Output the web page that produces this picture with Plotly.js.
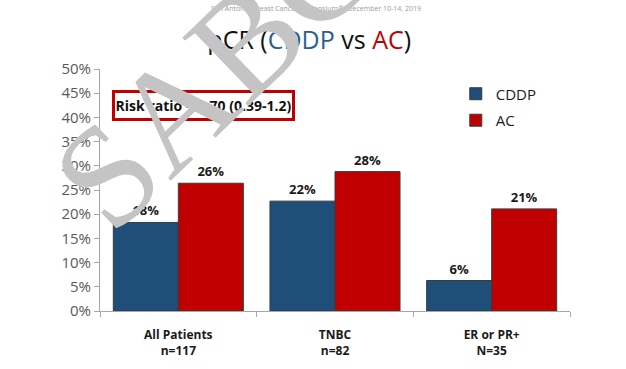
<!DOCTYPE html>
<html>
<head>
<meta charset="utf-8">
<script src="https://cdn.plot.ly/plotly-3.0.1.min.js"></script>
<style>html,body{margin:0;padding:0;background:#fff;}#chart{width:626px;height:369px;}</style>
</head>
<body>
<div id="chart"></div>
<script>
var categories = ['All Patients<br>n=117', 'TNBC<br>n=82', 'ER or PR+<br>N=35'];
var cddpValues = [18.3, 22.7, 6.3];
var acValues = [26.4, 28.8, 21.1];
var cddpLabels = ['18%', '22%', '6%'];
var acLabels = ['26%', '28%', '21%'];
var yTickVals = [0, 5, 10, 15, 20, 25, 30, 35, 40, 45, 50];
var yTickText = ['0%', '5%', '10%', '15%', '20%', '25%', '30%', '35%', '40%', '45%', '50%'];

var FONT = 'Open Sans, Lato, sans-serif';
var BLUE = '#1f4e79';
var RED = '#c00000';

var traces = [
  {
    type: 'bar', name: 'CDDP', x: categories, y: cddpValues, legendgroup: 'g1',
    text: cddpLabels, textposition: 'outside', cliponaxis: false,
    textfont: {family: FONT, size: 13, color: '#1a1a1a', weight: 'bold'},
    marker: {color: BLUE, line: {color: '#3a3a3a', width: 1}},
    hoverinfo: 'none'
  },
  {
    type: 'bar', name: 'AC', x: categories, y: acValues, legendgroup: 'g2',
    text: acLabels, textposition: 'outside', cliponaxis: false,
    textfont: {family: FONT, size: 13, color: '#1a1a1a', weight: 'bold'},
    marker: {color: RED, line: {color: '#3a3a3a', width: 1}},
    hoverinfo: 'none'
  }
];

var layout = {
  width: 626, height: 369,
  margin: {l: 100, r: 56, t: 69, b: 58},
  paper_bgcolor: '#ffffff', plot_bgcolor: '#ffffff',
  barmode: 'group', bargap: 0.17, bargroupgap: 0,
  font: {family: FONT},
  title: {
    text: 'pCR (<span style="color:#2e5f8c">CDDP</span> vs <span style="color:#c00000">AC</span>)',
    font: {family: FONT, size: 25, color: '#111111'},
    x: 0.494, xanchor: 'center', y: 0.892, yanchor: 'middle', xref: 'container', yref: 'container'
  },
  xaxis: {
    type: 'category', showline: true, linecolor: '#a6a6a6', linewidth: 1,
    ticks: 'outside', tickson: 'boundaries', ticklen: 5, tickcolor: '#a6a6a6',
    tickfont: {family: FONT, size: 12, color: '#1a1a1a', weight: 'bold'},
    ticklabelstandoff: 13, showgrid: false, zeroline: false
  },
  yaxis: {
    range: [0, 50], tickmode: 'array', tickvals: yTickVals, ticktext: yTickText,
    showline: true, linecolor: '#a6a6a6', linewidth: 1,
    ticks: 'outside', ticklen: 5, tickcolor: '#a6a6a6',
    tickfont: {family: FONT, size: 15, color: '#595959'},
    showgrid: false, zeroline: false
  },
  showlegend: true,
  legend: {
    x: 0.757, y: 0.965, xanchor: 'left', yanchor: 'top',
    font: {family: FONT, size: 15, color: '#1a1a1a'},
    itemwidth: 30, bgcolor: 'rgba(0,0,0,0)', traceorder: 'grouped', tracegroupgap: 4
  },
  annotations: [
    {
      xref: 'paper', yref: 'paper', x: 0.46, y: 1.252, xanchor: 'center', yanchor: 'middle',
      text: 'San Antonio Breast Cancer Symposium®, December 10-14, 2019',
      showarrow: false, font: {family: FONT, size: 7, color: '#9a9a9a'}
    },
    {
      xref: 'paper', yref: 'paper', x: 0.221, y: 0.851, xanchor: 'center', yanchor: 'middle',
      text: 'Risk ratio = 0.70 (0.39-1.2)', showarrow: false,
      font: {family: FONT, size: 14, color: '#111111', weight: 'bold'},
      bgcolor: '#ffffff', bordercolor: '#c00000', borderwidth: 3, borderpad: 0,
      width: 177, height: 25
    },
    {
      xref: 'paper', yref: 'paper', x: 0.243, y: 0.99, xanchor: 'center', yanchor: 'middle',
      text: 'SABC', showarrow: false, textangle: -44,
      font: {family: 'Liberation Serif, serif', size: 145, color: '#c4c4c4'}
    }
  ]
};

Plotly.newPlot('chart', traces, layout, {displayModeBar: false, staticPlot: true});
</script>
</body>
</html>
